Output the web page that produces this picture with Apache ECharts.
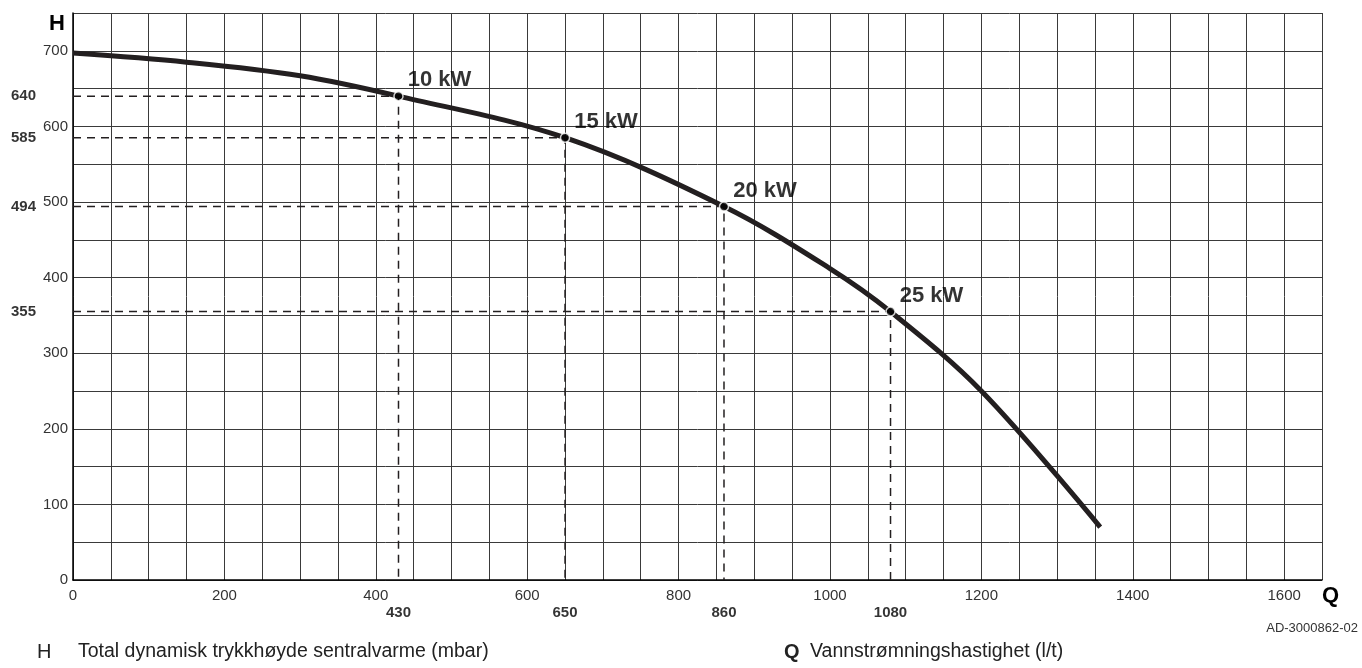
<!DOCTYPE html>
<html>
<head>
<meta charset="utf-8">
<script src="https://cdn.jsdelivr.net/npm/echarts@6/dist/echarts.min.js"></script>
<style>
html,body{margin:0;padding:0;background:#fff;}
#c{width:1362px;height:668px;}
</style>
</head>
<body>
<div id="c"></div>
<script>
// ---- data ----
const curveQ = [0, 150, 300, 430, 650, 860, 1000, 1080, 1200, 1357];
const curveH = [697, 685, 667, 640, 585, 494, 412, 355, 250, 70];
const opQ = [430, 650, 860, 1080];
const opH = [640, 585, 494, 355];
const opLabels = ['10 kW', '15 kW', '20 kW', '25 kW'];
const xTickStep = 200;
const yTickStep = 100;
const xMax = 1650;
const yMax = 750;
const xAxisName = 'Q';
const yAxisName = 'H';
const legendH = 'Total dynamisk trykkhøyde sentralvarme (mbar)';
const legendQ = 'Vannstrømningshastighet (l/t)';
const docCode = 'AD-3000862-02';

const FONT = '"Liberation Sans", Arial, sans-serif';
const ink = '#231f20';

const chart = echarts.init(document.getElementById('c'), null, {renderer: 'canvas'});

const series = [];
// guide dashed lines
opQ.forEach((q, i) => {
  series.push({
    type: 'line',
    data: [[0, opH[i]], [q, opH[i]], [q, 0]],
    symbol: 'none',
    silent: true,
    lineStyle: {color: ink, width: 1.5, type: [8, 6]},
    z: 3
  });
});
// curve
series.push({
  type: 'line',
  data: curveQ.map((q, i) => [q, curveH[i]]),
  smooth: 0.35,
  symbol: 'none',
  lineStyle: {color: ink, width: 5, cap: 'butt'},
  z: 5
});
// operating points
series.push({
  type: 'scatter',
  data: opQ.map((q, i) => ({value: [q, opH[i]], name: opLabels[i]})),
  symbolSize: 9,
  itemStyle: {color: '#000', borderColor: '#fff', borderWidth: 1.5},
  label: {
    show: true, position: 'right', distance: 4, offset: [0, -16],
    formatter: p => p.name,
    fontFamily: FONT, fontWeight: 'bold', fontSize: 22, color: '#000'
  },
  z: 6
});
// bold value labels on axes
series.push({
  type: 'scatter',
  data: opH.map(h => [0, h]),
  symbolSize: 0,
  silent: true,
  label: {
    show: true, position: 'left', distance: 37,
    formatter: p => String(p.value[1]),
    fontFamily: FONT, fontWeight: 'bold', fontSize: 15, color: '#000'
  },
  z: 6
});
series.push({
  type: 'scatter',
  data: opQ.map(q => [q, 0]),
  symbolSize: 0,
  silent: true,
  label: {
    show: true, position: 'bottom', distance: 25,
    formatter: p => String(p.value[0]),
    fontFamily: FONT, fontWeight: 'bold', fontSize: 15, color: '#000'
  },
  z: 6
});

const option = {
  backgroundColor: '#fff',
  animation: false,
  grid: {left: 73, top: 13, right: 40, bottom: 88, containLabel: false},
  xAxis: {
    type: 'value', min: 0, max: xMax, interval: 50,
    axisLine: {show: true, lineStyle: {color: '#000', width: 1.5}},
    axisTick: {show: false},
    splitLine: {show: true, lineStyle: {color: '#3a3a3a', width: 1}},
    axisLabel: {
      margin: 8, fontFamily: FONT, fontSize: 15, color: '#333',
      showMaxLabel: false,
      formatter: v => (v % xTickStep === 0 ? String(v) : '')
    }
  },
  yAxis: {
    type: 'value', min: 0, max: yMax, interval: 50,
    axisLine: {show: true, lineStyle: {color: '#000', width: 1.5}},
    axisTick: {show: false},
    splitLine: {show: true, lineStyle: {color: '#3a3a3a', width: 1}},
    axisLabel: {
      margin: 5, fontFamily: FONT, fontSize: 15, color: '#333',
      showMaxLabel: false,
      formatter: v => (v % yTickStep === 0 ? String(v) : '')
    }
  },
  graphic: [
    {type: 'text', left: 49, top: 13, style: {text: yAxisName, font: 'bold 22px ' + FONT, fill: '#000'}},
    {type: 'text', left: 1322, top: 585, style: {text: xAxisName, font: 'bold 22px ' + FONT, fill: '#000'}},
    {type: 'text', right: 4, top: 622, style: {text: docCode, font: '13px ' + FONT, fill: '#333'}},
    {type: 'text', left: 37, top: 642, style: {text: yAxisName, font: '20px ' + FONT, fill: '#222'}},
    {type: 'text', left: 78, top: 642, style: {text: legendH, font: '19.5px ' + FONT, fill: '#222'}},
    {type: 'text', left: 784, top: 642, style: {text: xAxisName, font: 'bold 20px ' + FONT, fill: '#222'}},
    {type: 'text', left: 810, top: 642, style: {text: legendQ, font: '19.5px ' + FONT, fill: '#222'}}
  ],
  series: series
};
chart.setOption(option);
</script>
</body>
</html>
